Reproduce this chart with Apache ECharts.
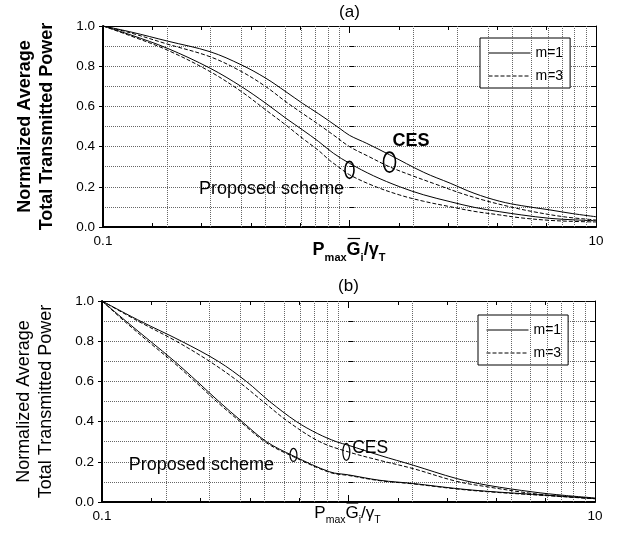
<!DOCTYPE html>
<html><head><meta charset="utf-8">
<script src="https://cdn.jsdelivr.net/npm/echarts/dist/echarts.min.js"></script>
<style>html,body{margin:0;padding:0;background:#fff}#c{width:631px;height:544px}</style>
</head><body><div id="c"></div><script>
// ---------- data ----------
const legendNames = ['m=1', 'm=3'];
const yTickLabels = ['0.0', '0.2', '0.4', '0.6', '0.8', '1.0'];
const xTickLabels = ['0.1', '10'];
const gridValues = [0.2,0.3,0.4,0.5,0.6,0.7,0.8,0.9,1,2,3,4,5,6,7,8,9,10];

// panel (a)
const a_cesM1 = [[0.1,1.0],[0.13,0.97],[0.1825,0.925],[0.272,0.872],[0.365,0.806],[0.458,0.74],[0.552,0.673],[0.645,0.615],[0.75,0.563],[0.914,0.49],[1.0,0.456],[1.175,0.416],[1.45,0.36],[2.0,0.272],[2.56,0.218],[3.2,0.168],[4.07,0.128],[5.0,0.106],[6.5,0.085],[8.0,0.067],[10,0.051]];
const a_cesM3 = [[0.1,1.0],[0.13,0.965],[0.1825,0.91],[0.272,0.847],[0.365,0.773],[0.458,0.698],[0.552,0.623],[0.645,0.565],[0.75,0.51],[0.86,0.458],[1.0,0.40],[1.2,0.35],[1.45,0.30],[1.8,0.255],[2.19,0.217],[2.8,0.17],[3.49,0.134],[4.5,0.1],[5.57,0.076],[7.5,0.05],[10,0.035]];
const a_propM1 = [[0.1,1.0],[0.13,0.955],[0.1825,0.889],[0.272,0.79],[0.365,0.698],[0.458,0.615],[0.552,0.541],[0.645,0.483],[0.75,0.425],[0.86,0.367],[1.0,0.317],[1.25,0.255],[1.6,0.20],[2.0,0.16],[2.56,0.126],[3.2,0.098],[4.07,0.076],[5.0,0.06],[6.5,0.043],[8.0,0.036],[10,0.031]];
const a_propM3 = [[0.1,1.0],[0.13,0.95],[0.1825,0.88],[0.272,0.773],[0.365,0.673],[0.458,0.582],[0.552,0.507],[0.645,0.441],[0.75,0.38],[0.828,0.333],[0.9,0.3],[1.0,0.26],[1.25,0.205],[1.6,0.159],[2.0,0.128],[2.56,0.101],[3.2,0.078],[4.07,0.06],[5.0,0.045],[6.5,0.033],[8.0,0.028],[10,0.025]];

// panel (b)
const b_cesM1 = [[0.1,1.0],[0.143,0.9],[0.21,0.8],[0.296,0.7],[0.385,0.6],[0.479,0.5],[0.615,0.4],[0.75,0.34],[0.893,0.3],[1.0,0.282],[1.34,0.232],[1.83,0.183],[2.74,0.117],[3.68,0.083],[5.6,0.05],[7.5,0.033],[10,0.02]];
const b_cesM3 = [[0.1,1.0],[0.14,0.9],[0.2,0.8],[0.273,0.7],[0.357,0.6],[0.45,0.5],[0.569,0.4],[0.764,0.3],[1.0,0.249],[1.34,0.207],[1.83,0.166],[2.74,0.103],[3.68,0.075],[5.6,0.042],[7.5,0.028],[10,0.017]];
const b_propM1 = [[0.1,1.0],[0.125,0.9],[0.157,0.8],[0.197,0.7],[0.243,0.6],[0.298,0.5],[0.37,0.4],[0.465,0.3],[0.596,0.23],[0.84,0.15],[1.0,0.135],[1.34,0.108],[1.83,0.092],[2.74,0.067],[3.68,0.053],[5.6,0.038],[10,0.017]];
const b_propM3 = [[0.1,1.0],[0.125,0.893],[0.157,0.79],[0.197,0.69],[0.243,0.59],[0.298,0.49],[0.37,0.392],[0.465,0.294],[0.596,0.226],[0.84,0.147],[1.0,0.132],[1.34,0.106],[1.83,0.09],[2.74,0.065],[3.68,0.051],[5.6,0.036],[10,0.016]];

// annotation anchors (data coordinates)
const a_textAnchors = [['CES', 1.776, 0.428], ['Proposed scheme', 0.483, 0.189]];
const a_ellipseAnchors = [[1.0, 0.284], [1.453, 0.323]];
const b_textAnchors = [['CES', 1.225, 0.27], ['Proposed scheme', 0.253, 0.183]];
const b_ellipseAnchors = [[0.98, 0.249], [0.598, 0.234]];

// ---------- layout / style ----------
const FONT = "'Liberation Sans', Arial, Helvetica, sans-serif";
const GRID_W = 493, GRID_H = 201;
const SHIFT_DEC = 10 / (GRID_W / 2); // vertical grid lines drawn ~10px left of ticks in reference
const GRIDC = '#666';

const panels = [
  { left: 103, top: 26, bold: true, title: '(a)', series: [a_cesM1, a_cesM3, a_propM1, a_propM3],
    legend: { left: 480, top: 38 }, texts: a_textAnchors, ellipses: a_ellipseAnchors,
    textStyles: [{ size: 18, bold: true }, { size: 18, bold: false }],
    ell: [[4.5, 8.5], [6, 10]], ellW: 1.6,
    xname: { cx: 349, base: 256.7, size: 18, sub: 11, subBase: 262, over: 238.5 }, titleY: 12 },
  { left: 102, top: 301, bold: false, title: '(b)', series: [b_cesM1, b_cesM3, b_propM1, b_propM3],
    legend: { left: 478, top: 315 }, texts: b_textAnchors, ellipses: b_ellipseAnchors,
    textStyles: [{ size: 17.5, bold: false }, { size: 18, bold: false }],
    ell: [[3.5, 8.5], [3.5, 6.5]], ellW: 1.2,
    xname: { cx: 347.5, base: 519, size: 17, sub: 10.5, subBase: 524, over: 503 }, titleY: 286 }
];

const fmtLog = v => String(+Number(v).toPrecision(3));

const option = { animation: false, backgroundColor: '#fff', grid: [], xAxis: [], yAxis: [], series: [], legend: [] };

panels.forEach((p, g) => {
  option.grid.push({ left: p.left, top: p.top, width: GRID_W, height: GRID_H });
  const lab = { color: '#000', fontSize: 13.5, fontFamily: FONT };
  option.xAxis.push({ gridIndex: g, type: 'log', logBase: 10, min: 0.1, max: 10, position: 'bottom',
    axisLine: { show: true, onZero: false, lineStyle: { color: '#000', width: 2 } },
    axisTick: { show: true, inside: true, length: 7, lineStyle: { color: '#000', width: 1 } },
    minorTick: { show: false }, splitLine: { show: false },
    axisLabel: Object.assign({ margin: 7, formatter: v => { const s = fmtLog(v); return xTickLabels.includes(s) ? s : ''; } }, lab) });
  option.xAxis.push({ gridIndex: g, type: 'log', logBase: 10, min: 0.1, max: 10, position: 'top',
    axisLine: { show: true, onZero: false, lineStyle: { color: '#000', width: 1 } },
    axisTick: { show: true, inside: true, length: 7, lineStyle: { color: '#000', width: 1 } },
    axisLabel: { show: false }, splitLine: { show: false } });
  option.xAxis.push({ gridIndex: g, type: 'value', min: -1, max: 1, interval: 0.2, position: 'bottom',
    axisLine: { show: false, onZero: false }, axisTick: { show: true, inside: true, length: 4, lineStyle: { color: '#000' } },
    axisLabel: { show: false }, splitLine: { show: false } });
  option.xAxis.push({ gridIndex: g, type: 'value', min: -1, max: 1, interval: 0.2, position: 'top',
    axisLine: { show: false, onZero: false }, axisTick: { show: true, inside: true, length: 4, lineStyle: { color: '#000' } },
    axisLabel: { show: false }, splitLine: { show: false } });
  option.xAxis.push({ gridIndex: g, type: 'log', logBase: 10, min: 0.1 * Math.pow(10, SHIFT_DEC), max: 10 * Math.pow(10, SHIFT_DEC),
    show: false });

  option.yAxis.push({ gridIndex: g, type: 'value', min: 0, max: 1, interval: 0.2, position: 'left',
    axisLine: { show: true, onZero: false, lineStyle: { color: '#000', width: 2 } },
    axisTick: { show: true, inside: false, length: 4, lineStyle: { color: '#000' } },
    axisLabel: Object.assign({ margin: 8, formatter: (v, i) => yTickLabels[i] }, lab),
    splitLine: { show: false },
    name: 'Normalized Average\nTotal Transmitted Power', nameLocation: 'middle', nameRotate: 90, nameGap: 45,
    nameTextStyle: { fontSize: 18, fontWeight: p.bold ? 'bold' : 'normal', fontFamily: FONT, color: '#000', lineHeight: 22 } });
  option.yAxis.push({ gridIndex: g, type: 'value', min: 0, max: 1, interval: 0.1, position: 'left',
    axisLine: { show: false }, axisTick: { show: true, inside: true, length: 5, lineStyle: { color: '#000' } },
    axisLabel: { show: false }, splitLine: { show: true, lineStyle: { color: GRIDC, width: 1, type: [1, 1] } } });
  option.yAxis.push({ gridIndex: g, type: 'value', min: 0, max: 1, interval: 0.1, position: 'right',
    axisLine: { show: true, onZero: false, lineStyle: { color: '#000', width: 1 } },
    axisTick: { show: true, inside: true, length: 5, lineStyle: { color: '#000' } },
    axisLabel: { show: false }, splitLine: { show: false } });

  option.series.push({ type: 'line', xAxisIndex: g * 5 + 4, yAxisIndex: g * 3, data: [], silent: true,
    markLine: { silent: true, symbol: ['none', 'none'], label: { show: false }, animation: false,
      lineStyle: { color: GRIDC, width: 1, type: [1, 1] }, data: gridValues.map(v => ({ xAxis: v })) } });

  p.series.forEach((d, k) => {
    const dashed = k % 2 === 1;
    option.series.push({ type: 'line', name: legendNames[k % 2], xAxisIndex: g * 5, yAxisIndex: g * 3, data: d,
      symbol: 'none', smooth: 0.35, silent: true, z: 5,
      lineStyle: { color: '#000', width: 1, type: dashed ? [4, 2] : 'solid' }, itemStyle: { color: '#000' } });
  });

  option.legend.push({ left: p.legend.left, top: p.legend.top, orient: 'vertical',
    data: legendNames.map(n => ({ name: n, itemStyle: { opacity: 0, color: 'transparent', borderWidth: 0 } })),
    itemWidth: 42, itemHeight: 14, itemGap: 9, padding: [8, 7, 5, 8], borderColor: '#000', borderWidth: 1,
    itemStyle: { opacity: 0, color: 'transparent', borderWidth: 0 }, lineStyle: { width: 1 },
    backgroundColor: '#fff', selectedMode: false, textStyle: { fontSize: 14, color: '#000', fontFamily: FONT } });
});

const chart = echarts.init(document.getElementById('c'), null, { renderer: 'canvas' });
chart.setOption(option);

// ---------- text graphics ----------
const mctx = document.createElement('canvas').getContext('2d');
function tw(t, size, bold) { mctx.font = (bold ? 'bold ' : '') + size + 'px ' + FONT; return mctx.measureText(t).width; }
function txt(t, x, baseline, size, bold, align) {
  return { type: 'text', silent: true, z: 10, style: { text: t, x: x, y: baseline - 0.3465 * size, fill: '#000',
    font: (bold ? 'bold ' : '') + size + 'px ' + FONT, textAlign: align || 'left', textVerticalAlign: 'middle' } };
}
const graphics = [];
panels.forEach((p, g) => {
  const xn = p.xname, b = p.bold;
  const parts = [['P', 0], ['max', 1], ['G', 2], ['i', 1], ['/', 0], ['\u03B3', 0], ['T', 1]];
  let total = 0;
  parts.forEach(q => { total += tw(q[0], q[1] === 1 ? xn.sub : xn.size, b); });
  let x = xn.cx - total / 2;
  parts.forEach(q => {
    const sub = q[1] === 1, size = sub ? xn.sub : xn.size;
    const w = tw(q[0], size, b);
    graphics.push(txt(q[0], x, sub ? xn.subBase : xn.base, size, b));
    if (q[1] === 2) graphics.push({ type: 'line', silent: true, z: 10, shape: { x1: x + 1, y1: xn.over, x2: x + w - 0.5, y2: xn.over }, style: { stroke: '#000', lineWidth: 1.2 } });
    x += w;
  });
  graphics.push({ type: 'text', silent: true, z: 10, style: { text: p.title, x: p.left + GRID_W / 2, y: p.titleY, fill: '#000',
    font: '17px ' + FONT, textAlign: 'center', textVerticalAlign: 'middle' } });
  const finder = { xAxisIndex: g * 5, yAxisIndex: g * 3 };
  p.texts.forEach((t, i) => {
    const pt = chart.convertToPixel(finder, [t[1], t[2]]);
    const st = p.textStyles[i];
    graphics.push({ type: 'text', silent: true, z: 10, style: { text: t[0], x: pt[0], y: pt[1], fill: '#000',
      font: (st.bold ? 'bold ' : '') + st.size + 'px ' + FONT, textAlign: 'center', textVerticalAlign: 'middle' } });
  });
  p.ellipses.forEach((e, i) => {
    const pt = chart.convertToPixel(finder, e);
    graphics.push({ type: 'ellipse', silent: true, z: 10, shape: { cx: pt[0], cy: pt[1], rx: p.ell[i][0], ry: p.ell[i][1] },
      style: { fill: 'none', stroke: '#000', lineWidth: p.ellW } });
  });
});
chart.setOption({ graphic: graphics });
</script></body></html>
